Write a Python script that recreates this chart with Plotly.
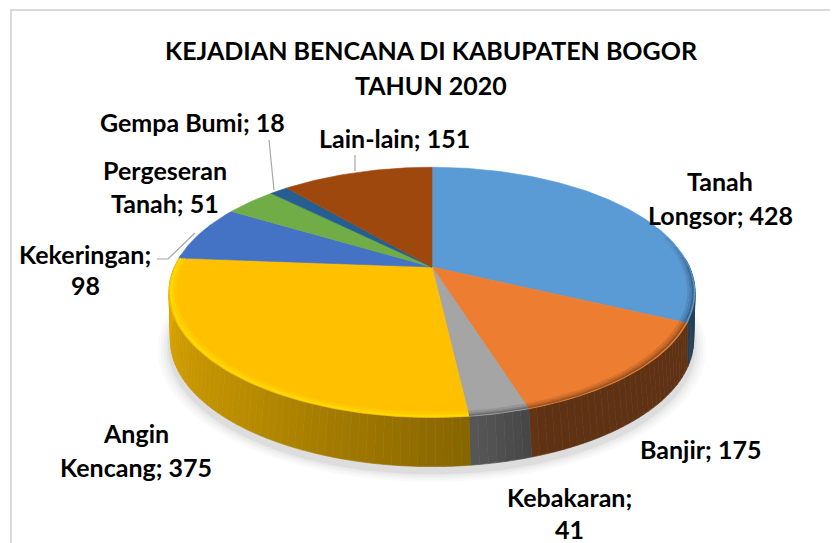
import numpy as np
import plotly.graph_objects as go

categories = ["Tanah Longsor", "Banjir", "Kebakaran", "Angin Kencang", "Kekeringan", "Pergeseran Tanah", "Gempa Bumi", "Lain-lain"]
values = [428, 175, 41, 375, 98, 51, 18, 151]
colors = ["#5B9BD5", "#ED7D31", "#A5A5A5", "#FFC000", "#4472C4", "#70AD47", "#255E91", "#9E480E"]
title_lines = ["KEJADIAN BENCANA DI KABUPATEN BOGOR", "TAHUN 2020"]

W, H = 838, 543
PAGE_MARGIN = 8  # the page body's default margin
FONT = "Lato"
SIZE = 25
CX = 432
TOP = dict(cy=267, R=257.6, S=120, k=0.203)
BOT = dict(cy=310, R=254.0, S=119, k=0.24)


def proj(theta, r, p):
    t = np.radians(theta)
    u, v = r * np.sin(t), r * np.cos(t)
    w = 1 + p["k"] * v
    return CX + p["R"] * u / w, p["cy"] - p["S"] * v / w


def rgb(h):
    return np.array([int(h[i:i + 2], 16) for i in (1, 3, 5)], float)


def css(c, a=None):
    c = np.clip(c, 0, 255).round().astype(int)
    if a is None:
        return f"rgb({c[0]},{c[1]},{c[2]})"
    return f"rgba({c[0]},{c[1]},{c[2]},{a})"


def side_shade(theta):
    return np.interp(theta, [88, 115, 160, 172, 215, 272], [0.42, 0.40, 0.40, 0.52, 0.72, 0.90])


fig = go.Figure()


def poly(x, y, color, lw=0.6):
    fig.add_trace(go.Scatter(x=x, y=y, mode="lines", fill="toself", fillcolor=color,
                             line=dict(color=color, width=lw), hoverinfo="skip", showlegend=False))


# soft shadow under the drum
for grow, a in zip([1.045, 1.035, 1.025, 1.015, 1.008], [0.035, 0.04, 0.05, 0.06, 0.08]):
    th = np.linspace(0, 360, 181)
    x, y = proj(th, grow, BOT)
    poly(x, y + 6, f"rgba(120,120,120,{a})", 0)

ends = np.cumsum(values) / np.sum(values) * 360
starts = np.concatenate([[0], ends[:-1]])

# drum side: thin strips, shaded by angle
for a0, a1, col in zip(starts, ends, colors):
    lo, hi = max(a0, 86), min(a1, 276)
    if hi <= lo:
        continue
    edges = np.linspace(lo, hi, max(2, int((hi - lo) / 1.5) + 1))
    base = rgb(col)
    for e0, e1 in zip(edges[:-1], edges[1:]):
        mid = np.linspace(e0, e1, 3)
        xt, yt = proj(mid, 1, TOP)
        xb, yb = proj(mid[::-1], 1, BOT)
        poly(np.r_[xt, xb, xt[0]], np.r_[yt, yb, yt[0]], css(base * side_shade((e0 + e1) / 2)))

# top face
for a0, a1, col in zip(starts, ends, colors):
    th = np.linspace(a0, a1, max(3, int(a1 - a0) + 2))
    x, y = proj(th, 1, TOP)
    poly(np.r_[CX, x, CX], np.r_[TOP["cy"], y, TOP["cy"]], col)

# bevel: bands along the visible rim, blending the face into a rim colour
bands = [(0.992, 0.75), (0.984, 0.45), (0.976, 0.22)]
for a0, a1, col in zip(starts, ends, colors):
    lo, hi = max(a0, 70), min(a1, 290)
    if hi <= lo:
        continue
    base = rgb(col)
    edges = np.linspace(lo, hi, max(2, int((hi - lo) / 5) + 1))
    for e0, e1 in zip(edges[:-1], edges[1:]):
        m = (e0 + e1) / 2
        if m < 172:
            rim = base * 0.55
        else:
            rim = np.minimum(base + np.array([0, 35, 0]) * (base[0] > 250), 255)
        fade = np.interp(m, [70, 95, 270, 290], [0, 1, 1, 0])
        for r, s in bands:
            t = np.linspace(e0, e1, 4)
            x, y = proj(t, r, TOP)
            c = base + (rim - base) * s * fade
            fig.add_trace(go.Scatter(x=x, y=y, mode="lines", line=dict(color=css(c), width=2.2),
                                     hoverinfo="skip", showlegend=False))

# text
annotations = []


def text(s, x, y, size=SIZE):
    annotations.append(dict(text=f"<b>{s}</b>", x=x, y=y, xref="x", yref="y", showarrow=False,
                            xanchor="center", yanchor="middle",
                            font=dict(family=FONT, size=size, color="#000000")))


v = dict(zip(categories, values))
text(title_lines[0], 431, 50)
text(title_lines[1], 431, 85)
text(f"Gempa Bumi; {v['Gempa Bumi']}", 192, 122)
text(f"Lain-lain; {v['Lain-lain']}", 394, 138)
text("Tanah", 720, 181)
text(f"Longsor; {v['Tanah Longsor']}", 720, 215)
text("Pergeseran", 165, 170)
text(f"Tanah; {v['Pergeseran Tanah']}", 165, 203)
text("Kekeringan;", 85, 254)
text(f"{v['Kekeringan']}", 85, 285)
text("Angin", 136, 433)
text(f"Kencang; {v['Angin Kencang']}", 136, 467)
text(f"Banjir; {v['Banjir']}", 700, 449)
text("Kebakaran;", 569, 497)
text(f"{v['Kebakaran']}", 569, 529)

leader = dict(color="#A6A6A6", width=1.2)
shapes = [
    dict(type="rect", x0=11, y0=10, x1=900, y1=600, xref="x", yref="y", line=dict(color="#D9D9D9", width=2), layer="below"),
    dict(type="path", path="M 269 140 L 274 190", xref="x", yref="y", line=leader),
    dict(type="path", path="M 355 155 L 355 171", xref="x", yref="y", line=leader),
    dict(type="path", path="M 157 259 L 168 259 L 195 233", xref="x", yref="y", line=leader),
]

fig.update_layout(
    width=W - PAGE_MARGIN, height=H - PAGE_MARGIN, margin=dict(l=0, r=0, t=0, b=0), autosize=False,
    paper_bgcolor="white", plot_bgcolor="white", showlegend=False,
    xaxis=dict(range=[PAGE_MARGIN, W], visible=False, fixedrange=True),
    yaxis=dict(range=[H, PAGE_MARGIN], visible=False, fixedrange=True),
    annotations=annotations, shapes=shapes,
)
fig.write_html("out.html", config={"displayModeBar": False})
